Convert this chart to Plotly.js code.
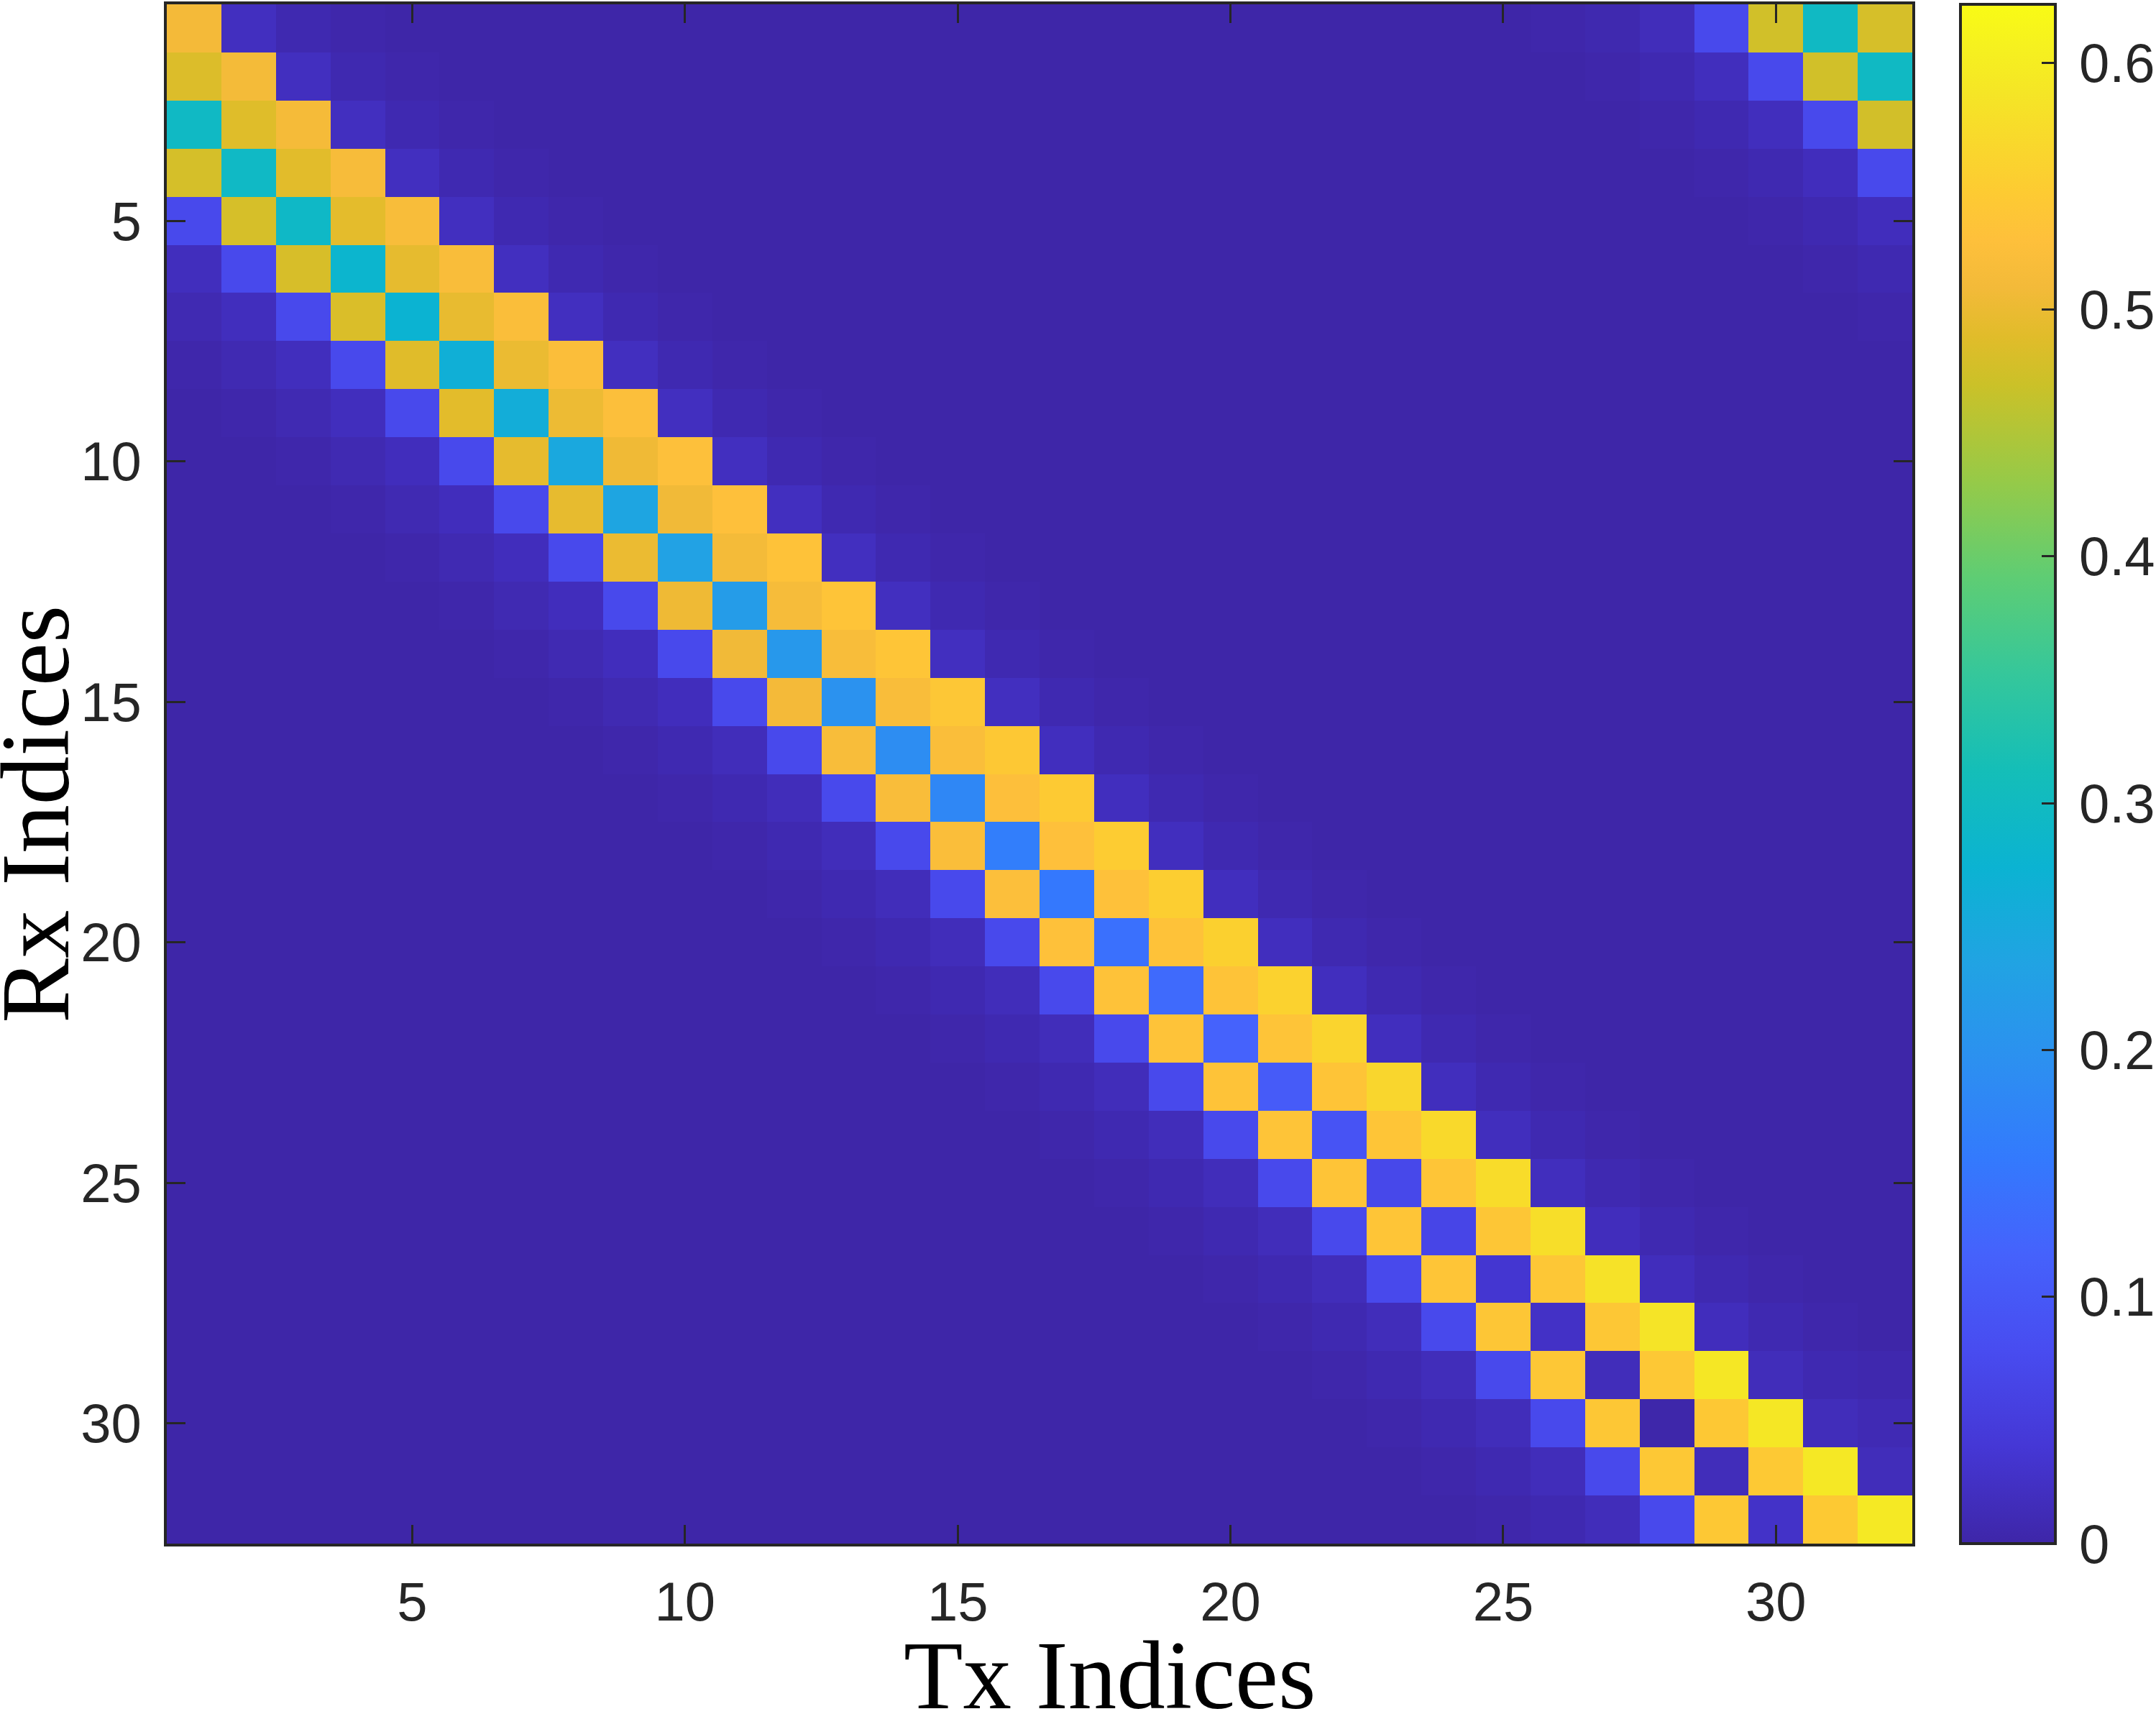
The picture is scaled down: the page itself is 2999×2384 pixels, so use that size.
<!DOCTYPE html>
<html>
<head>
<meta charset="utf-8">
<script src="https://cdn.plot.ly/plotly-3.0.1.min.js"></script>
<style>
  html, body { margin: 0; padding: 0; background: #ffffff; }
  #chart { width: 2999px; height: 2384px; }
</style>
</head>
<body>
<div id="chart"></div>
<script>
/**
 * Rx/Tx channel magnitude map, 32 x 32, MATLAB parula look.
 * Values are stored per diagonal (one entry per Rx row).
 */

const N = 32;

// main diagonal, Tx = Rx
const diag0 = [
  0.510, 0.511, 0.513, 0.515, 0.517, 0.519, 0.521, 0.523, 0.525, 0.527, 0.529,
  0.532, 0.535, 0.537, 0.540, 0.543, 0.546, 0.549, 0.552, 0.556, 0.558, 0.562,
  0.565, 0.569, 0.573, 0.576, 0.582, 0.585, 0.590, 0.590, 0.591, 0.593,
];
// Tx = Rx - 1 (wraps to the last column on row 1)
const diag1 = [
  0.479, 0.485, 0.487, 0.490, 0.492, 0.495, 0.497, 0.500, 0.502, 0.505, 0.507,
  0.511, 0.514, 0.518, 0.520, 0.522, 0.526, 0.528, 0.530, 0.532, 0.534, 0.535,
  0.536, 0.537, 0.538, 0.539, 0.540, 0.541, 0.542, 0.543, 0.544, 0.545,
];
// Tx = Rx - 2
const diag2 = [
  0.296, 0.296, 0.295, 0.294, 0.292, 0.280, 0.274, 0.265, 0.259, 0.247, 0.240,
  0.232, 0.220, 0.212, 0.200, 0.190, 0.180, 0.163, 0.154, 0.141, 0.131, 0.117,
  0.105, 0.090, 0.070, 0.065, 0.036, 0.026, 0.016, 0.002, 0.016, 0.028,
];
// Tx = Rx - 3
const diag3 = [
  0.475, 0.475, 0.476, 0.478, 0.479, 0.480, 0.483, 0.488, 0.491, 0.494, 0.496,
  0.500, 0.504, 0.507, 0.510, 0.517, 0.520, 0.522, 0.525, 0.530, 0.532, 0.533,
  0.534, 0.535, 0.536, 0.537, 0.538, 0.539, 0.540, 0.541, 0.542, 0.543,
];
// Tx = Rx - 4
const diag4 = [
  0.072, 0.072, 0.072, 0.072, 0.072, 0.072, 0.072, 0.072, 0.072, 0.072, 0.072,
  0.072, 0.072, 0.072, 0.072, 0.072, 0.072, 0.072, 0.072, 0.072, 0.072, 0.072,
  0.072, 0.072, 0.072, 0.072, 0.072, 0.072, 0.072, 0.072, 0.072, 0.072,
];
// faint tails below the band
const diag5 = [
  0.016, 0.018, 0.018, 0.017, 0.017, 0.018, 0.018, 0.018, 0.018, 0.017, 0.017,
  0.017, 0.017, 0.017, 0.017, 0.016, 0.016, 0.016, 0.016, 0.016, 0.016, 0.016,
  0.016, 0.016, 0.016, 0.016, 0.016, 0.016, 0.016, 0.016, 0.016, 0.016,
];
const diag6 = [
  0.006, 0.008, 0.008, 0.008, 0.008, 0.008, 0.009, 0.009, 0.009, 0.009, 0.009,
  0.009, 0.009, 0.009, 0.009, 0.008, 0.008, 0.008, 0.008, 0.008, 0.008, 0.008,
  0.008, 0.008, 0.008, 0.008, 0.008, 0.008, 0.008, 0.008, 0.008, 0.008,
];
const diag7 = [
  0.003, 0.003, 0.003, 0.003, 0.003, 0.003, 0.003, 0.003, 0.003, 0.003, 0.003,
  0.003, 0.003, 0.003, 0.003, 0.003, 0.003, 0.003, 0.003, 0.003, 0.003, 0.003,
  0.003, 0.003, 0.003, 0.003, 0.003, 0.003, 0.003, 0.003, 0.003, 0.003,
];
// above the band, no wrap
const upper1 = [
  0.020, 0.020, 0.020, 0.020, 0.020, 0.020, 0.020, 0.020, 0.020, 0.020, 0.020,
  0.020, 0.020, 0.020, 0.020, 0.019, 0.019, 0.019, 0.019, 0.019, 0.019, 0.019,
  0.018, 0.018, 0.018, 0.017, 0.017, 0.017, 0.016, 0.016, 0.016,
];
const upper2 = [
  0.007, 0.007, 0.008, 0.008, 0.008, 0.008, 0.008, 0.008, 0.008, 0.008, 0.008,
  0.008, 0.008, 0.008, 0.008, 0.008, 0.008, 0.008, 0.008, 0.008, 0.008, 0.008,
  0.008, 0.008, 0.008, 0.008, 0.008, 0.008, 0.008, 0.010,
];
const upper3 = [
  0.003, 0.003, 0.003, 0.003, 0.003, 0.003, 0.003, 0.003, 0.003, 0.003, 0.003,
  0.003, 0.003, 0.003, 0.003, 0.003, 0.003, 0.003, 0.003, 0.003, 0.003, 0.003,
  0.003, 0.003, 0.003, 0.003, 0.003, 0.003, 0.005,
];

const axisTicks = [5, 10, 15, 20, 25, 30];
const cbarTicks = [0, 0.1, 0.2, 0.3, 0.4, 0.5, 0.6];
const cbarLabels = ['0', '0.1', '0.2', '0.3', '0.4', '0.5', '0.6'];
const zMax = 0.6236;

// parula (R2017a+) sampled every 16 of 256 entries, plus a few extra near the top
const parula = [
  [0.0, 'rgb(62,38,168)'],
  [0.0627, 'rgb(69,55,213)'],
  [0.1255, 'rgb(72,76,240)'],
  [0.1882, 'rgb(69,98,252)'],
  [0.251, 'rgb(51,122,253)'],
  [0.3137, 'rgb(44,144,240)'],
  [0.3765, 'rgb(33,163,227)'],
  [0.4392, 'rgb(11,179,210)'],
  [0.502, 'rgb(20,190,184)'],
  [0.5647, 'rgb(53,199,155)'],
  [0.6275, 'rgb(94,205,116)'],
  [0.6902, 'rgb(150,202,72)'],
  [0.7529, 'rgb(203,193,40)'],
  [0.7843, 'rgb(225,188,42)'],
  [0.8157, 'rgb(243,186,57)'],
  [0.8471, 'rgb(254,192,59)'],
  [0.8784, 'rgb(253,203,50)'],
  [0.9098, 'rgb(249,216,44)'],
  [0.9412, 'rgb(245,229,38)'],
  [0.9725, 'rgb(246,241,31)'],
  [1.0, 'rgb(249,251,21)'],
];

/**
 * Puts the diagonal arrays back into a full Rx x Tx matrix.
 * @return {Array<Array<number>>} z[rx][tx]
 */
function buildMatrix() {
  const lower = [diag0, diag1, diag2, diag3, diag4, diag5, diag6, diag7];
  const upper = [null, upper1, upper2, upper3];
  const z = [];
  for (let r = 0; r < N; r++) {
    const row = [];
    for (let c = 0; c < N; c++) {
      const d = (r - c + N) % N;
      const u = c - r;
      if (d < lower.length) row.push(lower[d][r]);
      else if (u > 0 && u < upper.length) row.push(upper[u][r]);
      else row.push(0);
    }
    z.push(row);
  }
  return z;
}

const idx = diag0.map((_, i) => i + 1);
const ink = '#262626';
const tickFont = {family: '"Liberation Sans", Arial, sans-serif', size: 76, color: ink};
const titleFont = {family: '"Liberation Serif", "Times New Roman", serif', size: 135, color: '#000000'};

const trace = {
  type: 'heatmap',
  x: idx,
  y: idx,
  z: buildMatrix(),
  zmin: 0,
  zmax: zMax,
  colorscale: parula,
  colorbar: {
    x: (2727 - 232) / 2428,
    xanchor: 'left',
    xpad: 0,
    ypad: 0,
    y: 0.5,
    yanchor: 'middle',
    len: 1,
    thickness: 132,
    thicknessmode: 'pixels',
    outlinewidth: 4,
    outlinecolor: ink,
    tickvals: cbarTicks,
    // thin space keeps the labels a little further off the bar, as in MATLAB
    ticktext: cbarLabels.map((t) => '\u2009' + t),
    ticks: 'inside',
    ticklen: 21,
    tickwidth: 3,
    tickcolor: ink,
    tickfont: tickFont,
  },
};

const axisBase = {
  tickvals: axisTicks,
  ticks: 'inside',
  ticklen: 26,
  tickwidth: 3,
  tickcolor: ink,
  showline: true,
  linewidth: 4,
  linecolor: ink,
  mirror: 'ticks',
  showgrid: false,
  zeroline: false,
  automargin: false,
  tickfont: tickFont,
};

const layout = {
  width: 2999,
  height: 2384,
  margin: {l: 232, r: 339, t: 6, b: 237, autoexpand: false},
  paper_bgcolor: '#ffffff',
  plot_bgcolor: '#ffffff',
  showlegend: false,
  xaxis: {...axisBase, range: [0.5, N + 0.5], ticklabelstandoff: 12},
  yaxis: {...axisBase, range: [N + 0.5, 0.5], ticklabelstandoff: 16},
  // axis titles as annotations so they sit where the MATLAB labels sit
  annotations: [
    {
      text: 'Tx Indices',
      xref: 'paper', yref: 'paper',
      x: (1544 - 232) / 2428, y: (2147 - 2330) / 2141,
      xanchor: 'center', yanchor: 'middle',
      showarrow: false,
      font: titleFont,
    },
    {
      text: 'Rx Indices',
      xref: 'paper', yref: 'paper',
      x: (49 - 232) / 2428, y: (2147 - 1133) / 2141,
      xanchor: 'center', yanchor: 'middle',
      textangle: -90,
      showarrow: false,
      font: titleFont,
    },
  ],
};

Plotly.newPlot('chart', [trace], layout, {displayModeBar: false, staticPlot: true});
</script>
</body>
</html>
